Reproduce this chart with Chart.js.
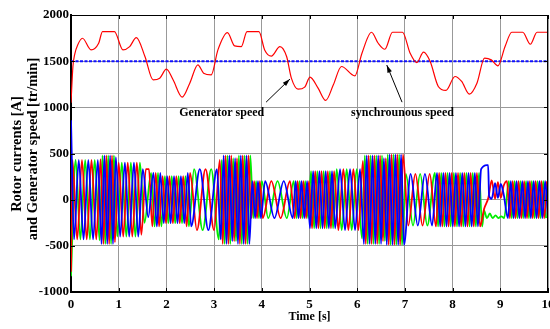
<!DOCTYPE html>
<html>
<head>
<meta charset="utf-8">
<script src="https://cdn.jsdelivr.net/npm/chart.js@4.4.0/dist/chart.umd.min.js"></script>
<style>
  html, body { margin: 0; padding: 0; background: #fff; }
  #wrap { width: 550px; height: 329px; }
</style>
</head>
<body>
<div id="wrap"><canvas id="chart" width="550" height="329"></canvas></div>
<script>
// axes
const xTicks = [0, 1, 2, 3, 4, 5, 6, 7, 8, 9, 10];
const yTicks = [-1000, -500, 0, 500, 1000, 1500, 2000];

// generator speed [tr/min]
const speedTime = [0, 0.04, 0.08, 0.14, 0.24, 0.42, 0.58, 0.66, 0.91, 1.09, 1.23, 1.37, 1.55, 1.72, 1.86,
  2.0, 2.14, 2.33, 2.49, 2.66, 2.78, 2.94, 3.08, 3.28, 3.43, 3.57, 3.69, 3.94, 4.06, 4.2,
  4.38, 4.52, 4.62, 4.76, 4.9, 5.01, 5.18, 5.34, 5.5, 5.67, 5.95, 6.1, 6.3, 6.44, 6.58,
  6.74, 6.95, 7.11, 7.25, 7.39, 7.53, 7.7, 7.86, 8.05, 8.19, 8.35, 8.51, 8.67, 8.81, 8.95,
  9.1, 9.24, 9.47, 9.63, 9.77, 10];
const speedValue = [1050, 1440, 1580, 1675, 1748, 1622, 1694, 1820, 1820, 1622, 1658, 1755, 1550, 1298, 1316,
  1413, 1298, 1111, 1262, 1460, 1370, 1352, 1622, 1809, 1665, 1658, 1820, 1820, 1622, 1555,
  1658, 1550, 1316, 1197, 1219, 1327, 1208, 1075, 1244, 1442, 1341, 1586, 1813, 1694, 1629,
  1813, 1813, 1586, 1485, 1597, 1496, 1226, 1183, 1334, 1280, 1143, 1262, 1532, 1514, 1449,
  1658, 1813, 1813, 1683, 1813, 1813];
const syncSpeed = 1500;

// rotor currents [A]: [time, value] at the peaks and troughs of each phase
const redCurrent = [
  [0, -780],
  [0.03, 430], [0.13, -430], [0.23, 430], [0.33, -430], [0.43, 430], [0.53, -430],
  [0.62, 440], [0.68, -480], [0.74, 480], [0.80, -480], [0.86, 480], [0.92, -460],
  [1.00, 400], [1.095, -400], [1.19, 400], [1.285, -400], [1.38, 400], [1.475, -380], [1.57, 330], [1.635, 330],
  [1.704, -290], [1.776, 290], [1.848, -290], [1.92, 255], [1.992, -255], [2.064, 255], [2.136, -255],
  [2.208, 255], [2.28, -255], [2.352, 255], [2.424, -290], [2.496, 290],
  [2.64, -330], [2.82, 330], [3.00, -330],
  [3.12, 430], [3.18, -480], [3.24, 480], [3.30, -480], [3.36, 480], [3.42, -450], [3.48, 450],
  [3.54, -480], [3.60, 480], [3.66, -480], [3.72, 480],
  [3.78, -200], [3.84, 200], [3.90, -200], [3.96, 200], [4.02, -200],
  [4.20, 200], [4.395, -200], [4.59, 200],
  [4.69, -200], [4.75, 200], [4.81, -200], [4.87, 200], [4.93, -200], [4.99, 200],
  [5.054, -310], [5.12, 310], [5.186, -310], [5.252, 310], [5.318, -310], [5.384, 310], [5.45, -310], [5.516, 310],
  [5.605, -330], [5.71, 330], [5.815, -330], [5.92, 330], [6.025, -330],
  [6.12, 420], [6.18, -480], [6.24, 480], [6.30, -480], [6.36, 480], [6.42, -480], [6.48, 480], [6.54, -450],
  [6.60, 450], [6.66, -490], [6.72, 490], [6.78, -490], [6.84, 490], [6.90, -490], [6.96, 490],
  [7.07, -280], [7.22, 280], [7.37, -280], [7.52, 280],
  [7.652, -290], [7.718, 290], [7.784, -290], [7.85, 290], [7.916, -290], [7.982, 290], [8.048, -290], [8.114, 290],
  [8.18, -290], [8.246, 290], [8.312, -290], [8.378, 290], [8.444, -290], [8.51, 290], [8.576, -290],
  [8.66, -100], [8.75, 20], [8.82, 210], [8.89, 10], [8.95, 190], [9.01, 20], [9.07, 150],
  [9.14, 200], [9.20, -200], [9.26, 200], [9.32, -200], [9.38, 200], [9.44, -200], [9.50, 200], [9.56, -200],
  [9.62, 200], [9.68, -200], [9.74, 200], [9.80, -200], [9.86, 200], [9.92, -200], [9.98, 200]
];
const greenCurrent = [
  [0, -830],
  [0.097, 430], [0.197, -430], [0.297, 430], [0.397, -430], [0.497, 430],
  [0.60, -440], [0.66, 480], [0.72, -480], [0.78, 480], [0.84, -480], [0.90, 480],
  [0.97, -400], [1.065, 400], [1.16, -400], [1.255, 400], [1.35, -400], [1.445, 400], [1.54, -250],
  [1.68, 290], [1.752, -290], [1.824, 290], [1.896, -290], [1.968, 255], [2.04, -255], [2.112, 255],
  [2.184, -255], [2.256, 255], [2.328, -255], [2.40, 255], [2.472, -290],
  [2.58, 330], [2.76, -330], [2.94, 330],
  [3.10, -430], [3.16, 430], [3.22, -480], [3.28, 480], [3.34, -480], [3.40, 450], [3.46, -450],
  [3.52, 480], [3.58, -480], [3.64, 480], [3.70, -480], [3.76, 480],
  [3.82, -200], [3.88, 200], [3.94, -200], [4.00, 200],
  [4.135, -200], [4.33, 200], [4.525, -200],
  [4.67, 200], [4.73, -200], [4.79, 200], [4.85, -200], [4.91, 200], [4.97, -200],
  [5.032, 310], [5.098, -310], [5.164, 310], [5.23, -310], [5.296, 310], [5.362, -310], [5.428, 310], [5.494, -310],
  [5.57, 330], [5.675, -330], [5.78, 330], [5.885, -330], [5.99, 330],
  [6.10, -420], [6.16, 480], [6.22, -480], [6.28, 480], [6.34, -480], [6.40, 480], [6.46, -480], [6.52, 480],
  [6.58, -450], [6.64, 490], [6.70, -490], [6.76, 490], [6.82, -490], [6.88, 490], [6.94, -490],
  [7.02, 280], [7.17, -280], [7.32, 280], [7.47, -280],
  [7.63, 290], [7.696, -290], [7.762, 290], [7.828, -290], [7.894, 290], [7.96, -290], [8.026, 290], [8.092, -290],
  [8.158, 290], [8.224, -290], [8.29, 290], [8.356, -290], [8.422, 290], [8.488, -290], [8.554, 290], [8.62, -290],
  [8.66, -120], [8.72, -200], [8.78, -150], [8.84, -200], [8.90, -170], [8.96, -200], [9.02, -180], [9.08, -200],
  [9.18, 200], [9.24, -200], [9.30, 200], [9.36, -200], [9.42, 200], [9.48, -200], [9.54, 200], [9.60, -200],
  [9.66, 200], [9.72, -200], [9.78, 200], [9.84, -200], [9.90, 200], [9.96, -200]
];
const blueCurrent = [
  [0, 860],
  [0.063, -430], [0.163, 430], [0.263, -430], [0.363, 430], [0.463, -430], [0.563, 430],
  [0.64, -480], [0.70, 480], [0.76, -480], [0.82, 480], [0.88, -480], [0.94, 460],
  [1.03, -400], [1.13, 400], [1.22, -400], [1.32, 400], [1.41, -400], [1.505, 330], [1.62, -190],
  [1.728, 290], [1.80, -290], [1.872, 290], [1.944, -255], [2.016, 255], [2.088, -255], [2.16, 255],
  [2.232, -255], [2.304, 255], [2.376, -255], [2.448, 290], [2.52, -290],
  [2.70, 330], [2.88, -330], [3.06, 330],
  [3.14, -430], [3.20, 480], [3.26, -480], [3.32, 480], [3.38, -450], [3.44, 450], [3.50, -480],
  [3.56, 480], [3.62, -480], [3.68, 480], [3.74, -480],
  [3.80, 200], [3.86, -200], [3.92, 200], [3.98, -200],
  [4.07, 200], [4.265, -200], [4.46, 200],
  [4.65, -200], [4.71, 200], [4.77, -200], [4.83, 200], [4.89, -200], [4.95, 200],
  [5.01, -310], [5.076, 310], [5.142, -310], [5.208, 310], [5.274, -310], [5.34, 310], [5.406, -310], [5.472, 310], [5.538, -310],
  [5.64, 330], [5.745, -330], [5.85, 330], [5.955, -330], [6.06, 330],
  [6.14, -480], [6.20, 480], [6.26, -480], [6.32, 480], [6.38, -480], [6.44, 480], [6.50, -480], [6.56, 450],
  [6.62, -490], [6.68, 490], [6.74, -490], [6.80, 490], [6.86, -490], [6.92, 490], [6.98, -490],
  [7.12, 280], [7.27, -280], [7.42, 280], [7.57, -280],
  [7.674, 290], [7.74, -290], [7.806, 290], [7.872, -290], [7.938, 290], [8.004, -290], [8.07, 290], [8.136, -290],
  [8.202, 290], [8.268, -290], [8.334, 290], [8.40, -290], [8.466, 290], [8.532, -290], [8.598, 330],
  [8.72, 375], [8.745, 375], [8.765, 40], [8.82, 10], [8.89, 180], [8.95, 20], [9.01, 170], [9.07, 60],
  [9.16, -200], [9.22, 200], [9.28, -200], [9.34, 200], [9.40, -200], [9.46, 200], [9.52, -200], [9.58, 200],
  [9.64, -200], [9.70, 200], [9.76, -200], [9.82, 200], [9.88, -200], [9.94, 200], [10.0, -200]
];

// text notes with arrows, in data units
const noteText = ["Generator speed", "synchrounous speed"];
const noteAt = [[3.16, 935], [6.95, 945]];
const arrowFrom = [[4.09, 1056], [6.94, 1056]];
const arrowTo = [[4.59, 1306], [6.62, 1458]];

const FONT = "'Liberation Serif', 'Times New Roman', serif";

function arrow(ctx, x1, y1, x2, y2) {
  const ang = Math.atan2(y2 - y1, x2 - x1);
  ctx.beginPath();
  ctx.moveTo(x1, y1);
  ctx.lineTo(x2, y2);
  ctx.stroke();
  ctx.beginPath();
  ctx.moveTo(x2, y2);
  ctx.lineTo(x2 - 8 * Math.cos(ang - 0.3), y2 - 8 * Math.sin(ang - 0.3));
  ctx.lineTo(x2 - 8 * Math.cos(ang + 0.3), y2 - 8 * Math.sin(ang + 0.3));
  ctx.closePath();
  ctx.fill();
}

const decorations = {
  id: "decorations",
  afterDraw(chart) {
    const { ctx, chartArea: a, scales: { x, y } } = chart;
    ctx.save();
    // top and right frame with inner ticks
    ctx.strokeStyle = "#000";
    ctx.lineWidth = 1;
    ctx.beginPath();
    ctx.moveTo(a.left, a.top + 0.5);
    ctx.lineTo(a.right - 0.5, a.top + 0.5);
    ctx.lineTo(a.right - 0.5, a.bottom);
    xTicks.forEach((v) => {
      const px = Math.round(x.getPixelForValue(v)) + 0.5;
      ctx.moveTo(px, a.top);
      ctx.lineTo(px, a.top + 4);
      ctx.moveTo(px, a.bottom);
      ctx.lineTo(px, a.bottom - 4);
    });
    yTicks.forEach((v) => {
      const py = Math.round(y.getPixelForValue(v)) + 0.5;
      ctx.moveTo(a.right, py);
      ctx.lineTo(a.right - 4, py);
      ctx.moveTo(a.left, py);
      ctx.lineTo(a.left + 4, py);
    });
    ctx.stroke();

    // notes
    ctx.fillStyle = "#000";
    ctx.font = `bold 12px ${FONT}`;
    ctx.textAlign = "center";
    ctx.textBaseline = "middle";
    noteText.forEach((t, i) => {
      ctx.fillText(t, x.getPixelForValue(noteAt[i][0]), y.getPixelForValue(noteAt[i][1]));
      arrow(ctx,
        x.getPixelForValue(arrowFrom[i][0]), y.getPixelForValue(arrowFrom[i][1]),
        x.getPixelForValue(arrowTo[i][0]), y.getPixelForValue(arrowTo[i][1]));
    });

    // axis titles
    ctx.font = `bold 12px ${FONT}`;
    ctx.fillText("Time [s]", (a.left + a.right) / 2, 317);
    ctx.font = `bold 14.5px ${FONT}`;
    ctx.save();
    ctx.translate(17, 154);
    ctx.rotate(-Math.PI / 2);
    ctx.fillText("Rotor currents [A]", 0, 0);
    ctx.restore();
    ctx.save();
    ctx.translate(33, 149);
    ctx.rotate(-Math.PI / 2);
    ctx.fillText("and Generator speed [tr/min]", 0, 0);
    ctx.restore();
    ctx.restore();
  }
};

const currentStyle = {
  borderWidth: 1.8,
  pointRadius: 0,
  cubicInterpolationMode: "monotone",
  fill: false
};

const ctx = document.getElementById("chart").getContext("2d");
new Chart(ctx, {
  type: "line",
  data: {
    datasets: [
      {
        label: "Generator speed",
        data: speedTime.map((t, i) => ({ x: t, y: speedValue[i] })),
        borderColor: "#ff0000",
        borderWidth: 1.2,
        pointRadius: 0,
        cubicInterpolationMode: "monotone"
      },
      {
        label: "synchrounous speed",
        data: [{ x: xTicks[0], y: syncSpeed }, { x: xTicks[xTicks.length - 1], y: syncSpeed }],
        borderColor: "#1010ff",
        borderWidth: 2,
        borderDash: [3, 1.5],
        pointRadius: 0
      },
      { label: "ib", data: blueCurrent, borderColor: "#0000ff", ...currentStyle },
      { label: "ia", data: redCurrent, borderColor: "#ff0000", ...currentStyle },
      { label: "ic", data: greenCurrent, borderColor: "#00ee00", ...currentStyle }
    ]
  },
  options: {
    responsive: false,
    animation: false,
    layout: { padding: { left: 0, top: 15, right: 2, bottom: 0 } },
    plugins: {
      legend: { display: false },
      tooltip: { enabled: false }
    },
    scales: {
      x: {
        type: "linear",
        min: 0,
        max: 10,
        afterBuildTicks: (s) => { s.ticks = xTicks.map((v) => ({ value: v })); },
        afterFit: (s) => { s.height = 37; s.paddingLeft = 0; s.paddingRight = 0; },
        ticks: {
          color: "#000",
          padding: 5,
          maxRotation: 0,
          callback: (v) => String(v),
          font: { family: FONT, size: 13, weight: "bold" }
        },
        grid: { color: "#999", lineWidth: 1, drawTicks: false },
        border: { color: "#000", width: 2 }
      },
      y: {
        min: -1000,
        max: 2000,
        afterBuildTicks: (s) => { s.ticks = yTicks.map((v) => ({ value: v })); },
        afterFit: (s) => { s.width = 71; s.paddingTop = 0; s.paddingBottom = 0; },
        ticks: {
          color: "#000",
          padding: 2,
          callback: (v) => String(v),
          font: { family: FONT, size: 13, weight: "bold" }
        },
        grid: { color: "#999", lineWidth: 1, drawTicks: false },
        border: { color: "#000", width: 2 }
      }
    }
  },
  plugins: [decorations]
});
</script>
</body>
</html>
